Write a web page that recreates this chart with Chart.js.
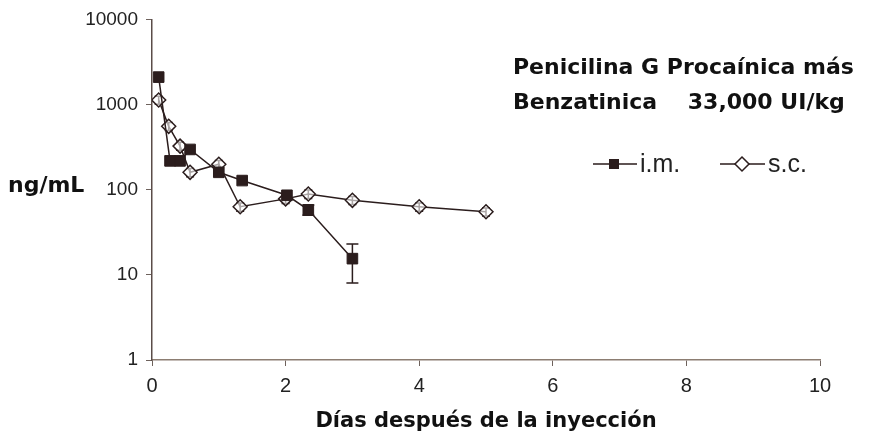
<!DOCTYPE html>
<html>
<head>
<meta charset="utf-8">
<script src="https://cdn.jsdelivr.net/npm/chart.js@4.4.1/dist/chart.umd.min.js"></script>
<style>
  html, body { margin: 0; padding: 0; background: #fff; }
  #wrap { width: 888px; height: 438px; }
</style>
</head>
<body>
<div id="wrap"><canvas id="chart" width="888" height="438"></canvas></div>
<script>
// --- data ---
const imDays  = [0.1, 0.27, 0.42, 0.57, 1.0, 1.35, 2.02, 2.34, 3.0];
const imConc  = [2100, 218, 218, 297, 160, 128, 86, 58, 15.5];
const imErr   = [0, 0, 0, 0, 0, 0, 0, 8, 7.5];

const scDays  = [0.1, 0.25, 0.42, 0.57, 1.0, 1.32, 2.0, 2.34, 3.0, 4.0, 5.0];
const scConc  = [1130, 555, 325, 160, 199, 63, 78, 89, 75, 63, 55];
const scErr   = [120, 60, 35, 18, 22, 7, 9, 10, 8, 7, 6];

const yTicks = [1, 10, 100, 1000, 10000];
const titleLines = ["Penicilina G Procaínica más", "Benzatinica    33,000 UI/kg"];

const ink = "#2b1d1d";
const comic = "'Comic Sans MS', 'DejaVu Sans', sans-serif";

function toPoints(xs, ys) { return xs.map((x, i) => ({ x: x, y: ys[i] })); }

// error bars, drawn through the chart's scales
const errorBars = {
  id: "errorBars",
  beforeDatasetsDraw(chart) {
    const { ctx, scales: { x, y } } = chart;
    const sets = [[imDays, imConc, imErr, 6], [scDays, scConc, scErr, 4]];
    ctx.save();
    ctx.strokeStyle = ink;
    ctx.lineWidth = 1.5;
    sets.forEach(([xs, ys, es, cap]) => {
      xs.forEach((d, i) => {
        if (!es[i]) return;
        const px = x.getPixelForValue(d);
        const top = y.getPixelForValue(ys[i] + es[i]);
        const bot = y.getPixelForValue(Math.max(ys[i] - es[i], 1));
        ctx.beginPath();
        ctx.moveTo(px, top); ctx.lineTo(px, bot);
        ctx.moveTo(px - cap, top); ctx.lineTo(px + cap, top);
        ctx.moveTo(px - cap, bot); ctx.lineTo(px + cap, bot);
        ctx.stroke();
      });
    });
    ctx.restore();
  }
};

// titles, y label and legend
const annotations = {
  id: "annotations",
  afterDraw(chart) {
    const ctx = chart.ctx;
    ctx.save();
    ctx.fillStyle = "#111";
    ctx.textBaseline = "middle";
    ctx.font = "bold 22px " + comic;
    ctx.fillText(titleLines[0], 513, 68);
    ctx.fillText(titleLines[1], 513, 103);
    ctx.fillText("ng/mL", 8, 186);

    // legend
    ctx.strokeStyle = ink;
    ctx.lineWidth = 1.5;
    ctx.beginPath();
    ctx.moveTo(593, 164); ctx.lineTo(637, 164);
    ctx.moveTo(720, 164); ctx.lineTo(765, 164);
    ctx.stroke();
    ctx.fillStyle = ink;
    ctx.fillRect(609, 159, 10, 10);
    ctx.beginPath();
    ctx.moveTo(742, 157); ctx.lineTo(749, 164); ctx.lineTo(742, 171); ctx.lineTo(735, 164);
    ctx.closePath();
    ctx.fillStyle = "#fff";
    ctx.fill();
    ctx.stroke();
    ctx.fillStyle = "#222";
    ctx.font = "25px 'Liberation Sans', Arial, sans-serif";
    ctx.fillText("i.m.", 640, 165);
    ctx.fillText("s.c.", 768, 165);
    ctx.restore();
  }
};

const ctx = document.getElementById("chart").getContext("2d");
new Chart(ctx, {
  type: "line",
  data: {
    datasets: [
      {
        label: "i.m.",
        data: toPoints(imDays, imConc),
        borderColor: ink,
        borderWidth: 1.5,
        backgroundColor: ink,
        pointStyle: "rect",
        pointRadius: 7.5,
        pointBorderWidth: 1,
        tension: 0
      },
      {
        label: "s.c.",
        data: toPoints(scDays, scConc),
        borderColor: ink,
        borderWidth: 1.5,
        backgroundColor: "rgba(255,255,255,0.6)",
        pointBackgroundColor: "rgba(255,255,255,0.6)",
        pointStyle: "rectRot",
        pointRadius: 7,
        pointBorderWidth: 1.5,
        tension: 0
      }
    ]
  },
  options: {
    responsive: false,
    animation: false,
    layout: { padding: { left: 0, top: 15, right: 68, bottom: 0 } },
    plugins: { legend: { display: false }, tooltip: { enabled: false } },
    scales: {
      x: {
        type: "linear",
        min: 0,
        max: 10,
        ticks: { stepSize: 2, color: "#222", padding: 8, font: { family: "'Liberation Sans', Arial", size: 20 } },
        grid: { drawOnChartArea: false, drawTicks: true, tickLength: 6, color: "#6e625c" },
        border: { color: "#8c7d72", width: 1.5 },
        title: {
          display: true,
          text: "Días después de la inyección",
          color: "#111",
          font: { family: comic, size: 21, weight: "bold" },
          padding: { top: 0 }
        },
        afterFit(scale) { scale.height = 78; }
      },
      y: {
        type: "logarithmic",
        min: 1,
        max: 10000,
        afterBuildTicks(scale) { scale.ticks = yTicks.map(v => ({ value: v })); },
        ticks: {
          color: "#222",
          padding: 8,
          font: { family: "'Liberation Sans', Arial", size: 19 },
          callback: v => String(v)
        },
        grid: { drawOnChartArea: false, drawTicks: true, tickLength: 6, color: "#6e625c" },
        border: { color: "#5a4c48", width: 1.5 },
        afterFit(scale) { scale.width = 152; }
      }
    }
  },
  plugins: [errorBars, annotations]
});
</script>
</body>
</html>
